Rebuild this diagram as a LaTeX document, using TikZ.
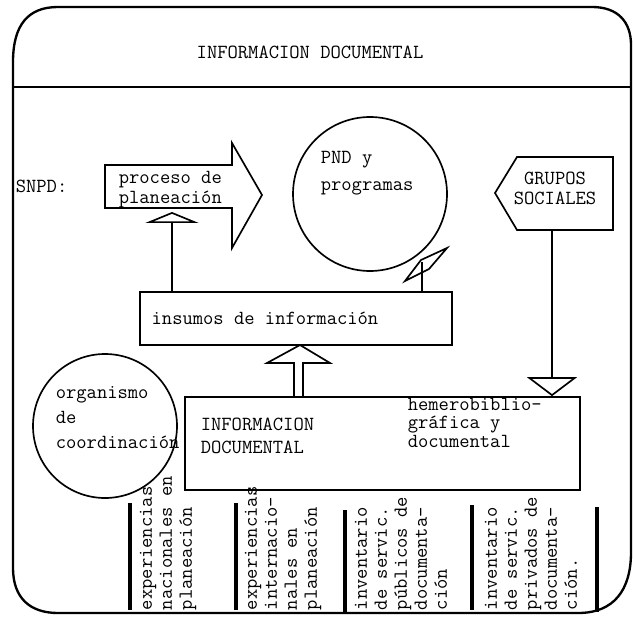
\documentclass[tikz,border=0pt]{standalone}
\usetikzlibrary{arrows.meta}
\tikzset{
  txt/.style={font=\ttfamily\fontsize{12}{12}\selectfont, inner sep=0pt, align=left},
  caja/.style={draw, line width=1pt},
  marco/.style={line width=1.4pt},
  barra/.style={line width=2.4pt},
  columna/.style={txt, rotate=90, anchor=north west},
}
\begin{document}
\begin{tikzpicture}[x=0.6pt, y=-0.6pt, line width=1pt]
\useasboundingbox (0,0) rectangle (633,620);
\draw[marco] (13,62) .. controls (13,25) and (28,7) .. (58,7) -- (592,7) .. controls (618,7) and (631,22) .. (631,45) -- (631,552) .. controls (631,590) and (614,613) .. (578,613) -- (58,613) .. controls (30,613) and (13,598) .. (13,568) -- cycle;
\draw[marco] (13,87) -- (631,87);
\node[txt] (titulo) at (310,52) {INFORMACION DOCUMENTAL};

\node[txt, anchor=west] (snpd) at (15,186) {SNPD:};
\draw (105,165) -- (232,165) -- (232,143) -- (262,195) -- (232,248) -- (232,208) -- (105,208) -- cycle;
\node[txt, anchor=west] (proceso) at (118,190) {proceso de\\planeación};

\node[caja, circle, minimum size=92.4pt, inner sep=0pt] (pnd) at (370,194) {};
\node[txt, anchor=west] (pndtxt) at (320,173) {PND y\\[4pt]programas};

\draw (495,193) -- (517,157) -- (613,157) -- (613,230) -- (517,230) -- cycle;
\node[txt, align=center] (grupos) at (555,188) {GRUPOS\\SOCIALES};

\node[caja, minimum width=187.2pt, minimum height=31.8pt, inner sep=0pt] (insumos) at (296,318.5) {};
\node[txt, anchor=west] (insumostxt) at ([xshift=7pt]insumos.west) {insumos de información};

\node[caja, minimum width=237pt, minimum height=55.8pt, inner sep=0pt] (doc) at (382.5,443.5) {};
\node[txt, anchor=west] (docizq) at (200,436) {INFORMACION\\[1.8pt]DOCUMENTAL};
\node[txt, anchor=north west] (docder) at (407,397) {hemerobiblio-\\[-1.2pt]gráfica y\\[-0.3pt]documental};

\node[caja, circle, minimum size=86.4pt, inner sep=0pt] (organismo) at (105,426) {};
\node[txt, anchor=west] (orgtxt) at (55,418) {organismo\\[3pt]de\\[3pt]coordinación};

\coordinate (pp) at (172,212);
\draw[-{Triangle[open, length=6.6pt, width=32pt]}] (insumos.north -| pp) -- (pp);
\coordinate (pq) at (422,262);
\draw (insumos.north -| pq) -- (pq);
\draw (405,281) -- (429,269) -- (447,248) -- (421,260) -- cycle;
\coordinate (gs) at (552,230);
\draw[-{Triangle[open, length=11.4pt, width=30pt]}] (gs) -- (doc.north -| gs);
\draw (294,397) -- (294,363) -- (267,363) -- (300,345) -- (330,363) -- (303,363) -- (303,397);

\draw[barra] (130,503) -- (130,610);
\draw[barra] (236,503) -- (236,610);
\draw[barra] (345,510) -- (345,612);
\draw[barra] (472,505) -- (472,610);
\draw[barra] (597,507) -- (597,612);
\node[columna] (exnac) at (139,611) {experiencias\\nacionales en\\planeación};
\node[columna] (exint) at (244,611) {experiencias\\internacio-\\nales en\\planeación};
\node[columna] (invpub) at (354,611) {inventario\\de servic.\\públicos de\\documenta-\\ción};
\node[columna] (invpriv) at (484,611) {inventario\\de servic.\\privados de\\documenta-\\ción.};
\end{tikzpicture}
\end{document}
